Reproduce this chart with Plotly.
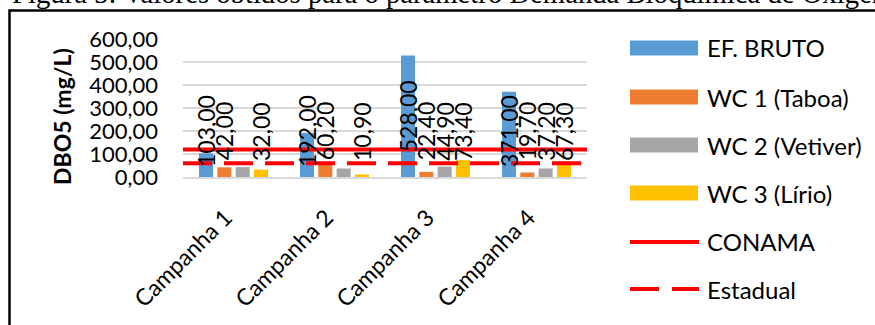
import plotly.graph_objects as go

# ---------------- data ----------------
categories = ["Campanha 1", "Campanha 2", "Campanha 3", "Campanha 4"]
series_names = ["EF. BRUTO", "WC 1 (Taboa)", "WC 2 (Vetiver)", "WC 3 (Lírio)"]
ef_bruto = [103.00, 192.00, 528.00, 371.00]
wc1_taboa = [42.00, 60.20, 22.40, 19.70]
wc2_vetiver = [43.00, 37.00, 44.90, 37.20]
wc3_lirio = [32.00, 10.90, 73.40, 67.30]
# which data labels are visible in the original (gray C1/C2 have none)
ef_bruto_lab = [True, True, True, True]
wc1_taboa_lab = [True, True, True, True]
wc2_vetiver_lab = [False, False, True, True]
wc3_lirio_lab = [True, True, True, True]
limit_names = ["CONAMA", "Estadual"]
conama_limit = [120, 120, 120, 120]
estadual_limit = [60, 60, 60, 60]
y_tick_values = [0, 100, 200, 300, 400, 500, 600]
y_title = "DBO5 (mg/L)"
caption = "Figura 5: Valores obtidos para o parâmetro Demanda Bioquímica de Oxigênio (DBO5)"

# ---------------- style / layout ----------------
W, H = 875, 325
L, R, T, B = 183, 288, 39, 148
PW, PH = W - L - R, H - T - B
FONT = "Lato"
FS = 23
TICK_FS = 22
bar_colors = ["#5B9BD5", "#ED7D31", "#A5A5A5", "#FFC000"]
red = "#FF0000"
grid = "#D9D9D9"
BARGAP, BARGROUPGAP = 0.274, 0.235
LABEL_MIN_CENTER = 200


def px_x(p):
    return (p - L) / PW


def px_y(p):
    return (H - B - p) / PH


def fmt(v):
    return f"{v:.2f}".replace(".", ",")


series = [ef_bruto, wc1_taboa, wc2_vetiver, wc3_lirio]
labels_on = [ef_bruto_lab, wc1_taboa_lab, wc2_vetiver_lab, wc3_lirio_lab]

fig = go.Figure()
for k, (name, vals) in enumerate(zip(series_names, series)):
    fig.add_trace(go.Bar(x=categories, y=vals, name=name,
                         marker=dict(color=bar_colors[k], line=dict(width=0)),
                         showlegend=False))

fig.add_trace(go.Scatter(x=categories, y=conama_limit, name=limit_names[0], xaxis="x2",
                         mode="lines", line=dict(color=red, width=4), showlegend=False))
fig.add_trace(go.Scatter(x=categories, y=estadual_limit, name=limit_names[1], xaxis="x2",
                         mode="lines", line=dict(color=red, width=4, dash="29px,12px"),
                         showlegend=False))

annotations = []
shapes = []

# data labels
cat_px = PW / len(categories)
slot_px = cat_px * (1 - BARGAP) / len(series)
for k, (vals, shown) in enumerate(zip(series, labels_on)):
    for i, v in enumerate(vals):
        if not shown[i]:
            continue
        annotations.append(dict(
            x=categories[i], xref="x", xshift=(k - (len(series) - 1) / 2) * slot_px,
            y=max(v / 2, LABEL_MIN_CENTER), yref="y",
            xanchor="center", yanchor="middle",
            text=fmt(v), textangle=-90, showarrow=False,
            font=dict(family=FONT, size=FS, color="#000000")))

# y-axis title
annotations.append(dict(x=px_x(62), y=px_y(117), xref="paper", yref="paper",
                        xanchor="center", yanchor="middle",
                        text=f"<b>{y_title}</b>", textangle=-90, showarrow=False,
                        font=dict(family=FONT, size=23, color="#000000")))

# caption (cut at top of picture)
annotations.append(dict(x=px_x(10), y=px_y(12.5), xref="paper", yref="paper",
                        xanchor="left", yanchor="bottom", text=caption, showarrow=False,
                        font=dict(family="Liberation Serif", size=28.7, color="#000000")))

# manual legend
leg_y = [48, 97, 145, 193, 242, 289]
for k, name in enumerate(series_names):
    cy = leg_y[k]
    shapes.append(dict(type="rect", xref="paper", yref="paper",
                       x0=px_x(630), x1=px_x(698), y0=px_y(cy + 7.5), y1=px_y(cy - 7.5),
                       fillcolor=bar_colors[k], line=dict(width=0)))
for j, name in enumerate(limit_names):
    cy = leg_y[len(series_names) + j]
    shapes.append(dict(type="line", xref="paper", yref="paper",
                       x0=px_x(630), x1=px_x(699), y0=px_y(cy), y1=px_y(cy),
                       line=dict(color=red, width=4, dash="solid" if j == 0 else "29px,13px")))
for k, name in enumerate(series_names + limit_names):
    annotations.append(dict(x=px_x(705), y=px_y(leg_y[k]), xref="paper", yref="paper",
                            xanchor="left", yanchor="middle", text=name, showarrow=False,
                            font=dict(family=FONT, size=24, color="#000000")))

# outer chart border
shapes.append(dict(type="rect", xref="paper", yref="paper", layer="below",
                   x0=px_x(9.5), x1=px_x(W + 20), y0=px_y(10.5), y1=px_y(H + 20),
                   line=dict(color="#000000", width=2.5), fillcolor="rgba(0,0,0,0)"))

fig.update_layout(
    width=W, height=H, autosize=False,
    margin=dict(l=L, r=R, t=T, b=B, pad=0),
    paper_bgcolor="white", plot_bgcolor="white",
    barmode="group", bargap=BARGAP, bargroupgap=BARGROUPGAP,
    separators=",.",
    font=dict(family=FONT, size=FS, color="#000000"),
    showlegend=False,
    annotations=annotations, shapes=shapes,
    xaxis=dict(type="category", categoryorder="array", categoryarray=categories,
               tickangle=-45, showgrid=False, showline=True, linecolor=grid, linewidth=2,
               ticks="", ticklabelstandoff=16, ticklabelshift=-8,
               tickfont=dict(family=FONT, size=FS, color="#000000")),
    xaxis2=dict(type="category", categoryorder="array", categoryarray=categories,
                overlaying="x", range=[0, len(categories) - 1], visible=False),
    yaxis=dict(range=[0, 600], tickvals=y_tick_values, tickformat=".2f",
               showgrid=True, gridcolor=grid, gridwidth=2, zeroline=False,
               showline=False, ticks="", ticklabelstandoff=24,
               tickfont=dict(family=FONT, size=TICK_FS, color="#000000")),
)

fig.write_html("out.html")
